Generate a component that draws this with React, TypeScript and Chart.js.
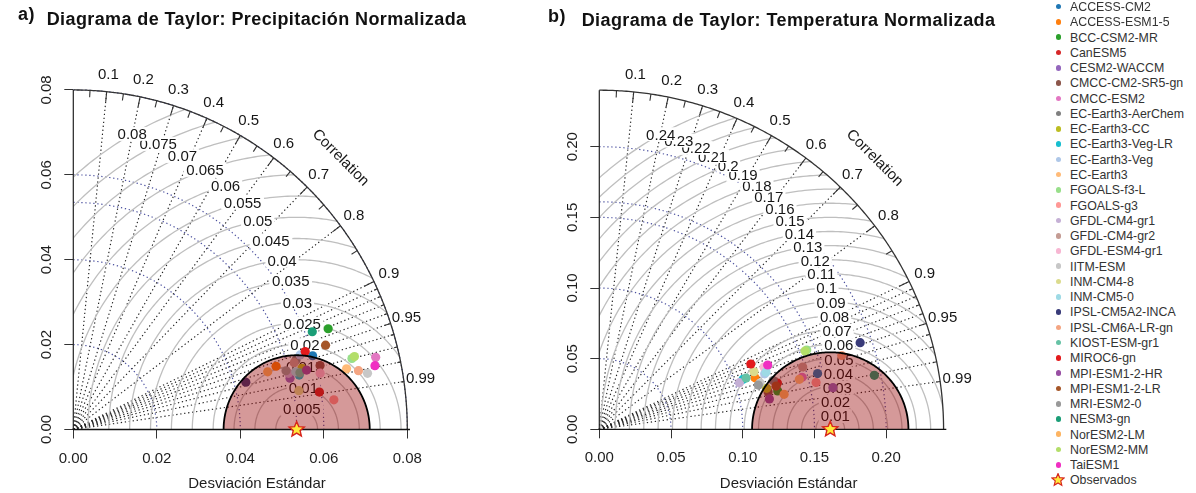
import React, { useEffect, useRef } from 'react';
import { Chart, registerables } from 'chart.js';

Chart.register(...registerables);

const FONT = "'Liberation Sans', Arial, Helvetica, sans-serif";
Chart.defaults.font.family = FONT;
Chart.defaults.color = '#222';

// ---------------- data ----------------
const modelNames = [
  'ACCESS-CM2', 'ACCESS-ESM1-5', 'BCC-CSM2-MR', 'CanESM5', 'CESM2-WACCM', 'CMCC-CM2-SR5-gn', 'CMCC-ESM2',
  'EC-Earth3-AerChem', 'EC-Earth3-CC', 'EC-Earth3-Veg-LR', 'EC-Earth3-Veg', 'EC-Earth3', 'FGOALS-f3-L',
  'FGOALS-g3', 'GFDL-CM4-gr1', 'GFDL-CM4-gr2', 'GFDL-ESM4-gr1', 'IITM-ESM', 'INM-CM4-8', 'INM-CM5-0',
  'IPSL-CM5A2-INCA', 'IPSL-CM6A-LR-gn', 'KIOST-ESM-gr1', 'MIROC6-gn', 'MPI-ESM1-2-HR', 'MPI-ESM1-2-LR',
  'MRI-ESM2-0', 'NESM3-gn', 'NorESM2-LM', 'NorESM2-MM', 'TaiESM1',
];

const modelColors = [
  '#1f77b4', '#ff7f0e', '#2ca02c', '#d62728', '#9467bd', '#8c564b', '#e377c2',
  '#7f7f7f', '#bcbd22', '#17becf', '#aec7e8', '#ffbb78', '#98df8a',
  '#ff9896', '#c5b0d5', '#c49c94', '#f7b6d2', '#c7c7c7', '#dbdb8d', '#9edae5',
  '#393b79', '#f4a582', '#66c2a5', '#e31a1c', '#984ea3', '#a65628',
  '#999999', '#1b9e77', '#fdb462', '#b3de69', '#f02fc2',
];

// Precipitation (panel a): standard deviation and correlation per model
const precipSD = [
  0.0599, 0.0508, 0.0655, 0.0596, 0.0533, 0.0610, 0.0744,
  0.0558, 0.0566, 0.0556, 0.0571, 0.0670, 0.0688,
  0.0628, 0.0532, 0.0552, 0.0606, 0.0717, 0.0548, 0.0550,
  0.0428, 0.0697, 0.0559, 0.0585, 0.0576, 0.0636,
  0.0528, 0.0617, 0.0485, 0.0695, 0.0738,
];
const precipCorr = [
  0.957, 0.956, 0.932, 0.989, 0.974, 0.969, 0.9735,
  0.956, 0.967, 0.973, 0.9515, 0.977, 0.970,
  0.9938, 0.9686, 0.9585, 0.9757, 0.9828, 0.986, 0.969,
  0.9656, 0.980, 0.971, 0.9495, 0.970, 0.950,
  0.965, 0.9277, 0.960, 0.969, 0.979,
];
const precipObsSD = 0.0535;
const precipMaxSD = 0.08;
const precipGoodRMS = 0.0175;
const precipSDTicks = [0.02, 0.04, 0.06, 0.08];
const precipRMS = [0.005, 0.01, 0.015, 0.02, 0.025, 0.03, 0.035, 0.04, 0.045, 0.05, 0.055, 0.06, 0.065, 0.07, 0.075, 0.08];

// Temperature (panel b)
const tempSD = [
  0.1572, 0.1145, 0.1273, 0.1284, 0.1655, 0.1206, 0.1461,
  0.1260, 0.1202, 0.1063, 0.1218, 0.1439, 0.1551,
  0.1547, 0.1031, 0.1485, 0.1230, 0.1168, 0.1153, 0.1231,
  0.1919, 0.1769, 0.1086, 0.1153, 0.1205, 0.1270,
  0.1152, 0.1955, 0.1312, 0.1538, 0.1259,
];
const tempCorr = [
  0.968, 0.948, 0.977, 0.967, 0.984, 0.9757, 0.9678,
  0.9617, 0.9704, 0.943, 0.9466, 0.9693, 0.9323,
  0.9768, 0.9474, 0.9549, 0.9336, 0.9598, 0.9355, 0.9442,
  0.9476, 0.9554, 0.9424, 0.9161, 0.984, 0.9705,
  0.9623, 0.9807, 0.982, 0.9328, 0.9324,
];
const tempObsSD = 0.161;
const tempMaxSD = 0.24;
const tempGoodRMS = 0.0545;
const tempSDTicks = [0.05, 0.1, 0.15, 0.2];
const tempRMS = [0.01, 0.02, 0.03, 0.04, 0.05, 0.06, 0.07, 0.08, 0.09, 0.1, 0.11, 0.12, 0.13, 0.14, 0.15, 0.16, 0.17, 0.18, 0.19, 0.2, 0.21, 0.22, 0.23, 0.24];

// Correlation grid
const corrLabels = [0.1, 0.2, 0.3, 0.4, 0.5, 0.6, 0.7, 0.8, 0.9, 0.95, 0.99];
const corrLines = [0.1, 0.2, 0.3, 0.4, 0.5, 0.6, 0.7, 0.8, 0.9, 0.91, 0.92, 0.93, 0.94, 0.95, 0.96, 0.97, 0.98, 0.99];
const corrBigTicks = [0.1, 0.2, 0.3, 0.4, 0.5, 0.6, 0.7, 0.8, 0.9];
const corrMedTicks = [0.05, 0.15, 0.25, 0.35, 0.45, 0.55, 0.65, 0.75, 0.85, 0.95];
const corrSmallTicks = [0.91, 0.92, 0.93, 0.94, 0.96, 0.97, 0.98, 0.99];

const titleA = 'Diagrama de Taylor: Precipitación Normalizada';
const titleB = 'Diagrama de Taylor: Temperatura Normalizada';
const xTitle = 'Desviación Estándar';
const obsLabel = 'Observados';

// ---------------- drawing ----------------
type Panel = {
  id: string;
  sd: number[];
  corr: number[];
  obs: number;
  max: number;
  good: number;
  sdTicks: number[];
  rms: number[];
  step: number;
  padLeft: number;
  yAxisW: number;
  padRight: number;
  padTop: number;
  xAxisH: number;
};

const LABEL_T = [0, 0.04, 0.0625, 0.083, 0.25, 0.5, 0.75, 1.0];
const LABEL_DEG = [62, 69, 75.6, 79.4, 84.3, 95, 106.5, 119.5];
function labelAngle(t: number) {
  for (let i = 1; i < LABEL_T.length; i++) {
    if (t <= LABEL_T[i]) {
      const f = (t - LABEL_T[i - 1]) / (LABEL_T[i] - LABEL_T[i - 1]);
      return ((LABEL_DEG[i - 1] + f * (LABEL_DEG[i] - LABEL_DEG[i - 1])) * Math.PI) / 180;
    }
  }
  return (LABEL_DEG[LABEL_DEG.length - 1] * Math.PI) / 180;
}

function fmt(v: number) {
  return String(Number(v.toFixed(3)));
}

function starPath(ctx: CanvasRenderingContext2D, cx: number, cy: number, R: number, r: number) {
  ctx.beginPath();
  for (let k = 0; k < 10; k++) {
    const a = -Math.PI / 2 + (k * Math.PI) / 5;
    const rr = k % 2 === 0 ? R : r;
    const x = cx + rr * Math.cos(a);
    const y = cy + rr * Math.sin(a);
    if (k === 0) ctx.moveTo(x, y);
    else ctx.lineTo(x, y);
  }
  ctx.closePath();
}

function taylorPlugin(p: Panel) {
  const helpers = (chart: any) => {
    const xs = chart.scales.x;
    const ys = chart.scales.y;
    const X = (v: number) => xs.getPixelForValue(v);
    const Y = (v: number) => ys.getPixelForValue(v);
    const ctx: CanvasRenderingContext2D = chart.ctx;
    const arcPath = (cx: number, cy: number, r: number, a0: number, a1: number, move = true) => {
      const n = 240;
      for (let i = 0; i <= n; i++) {
        const a = a0 + ((a1 - a0) * i) / n;
        const px = X(cx + r * Math.cos(a));
        const py = Y(cy + r * Math.sin(a));
        if (i === 0 && move) ctx.moveTo(px, py);
        else ctx.lineTo(px, py);
      }
    };
    return { X, Y, ctx, arcPath };
  };

  return {
    id: 'taylor' + p.id,
    beforeDatasetsDraw(chart: any) {
      const { X, Y, ctx, arcPath } = helpers(chart);
      const max = p.max;
      ctx.save();

      // standard deviation arcs (blue dotted) incl. the observed one
      ctx.setLineDash([1.3, 2.7]);
      ctx.lineWidth = 1.2;
      ctx.strokeStyle = '#4c519f';
      for (const r of [...p.sdTicks, p.obs]) {
        ctx.beginPath();
        arcPath(0, 0, r, Math.PI / 2, 0);
        ctx.stroke();
      }

      // correlation lines (black dotted)
      ctx.lineWidth = 1.15;
      ctx.strokeStyle = '#222';
      for (const c of corrLines) {
        const a = Math.acos(c);
        ctx.beginPath();
        ctx.moveTo(X(0), Y(0));
        ctx.lineTo(X(max * Math.cos(a)), Y(max * Math.sin(a)));
        ctx.stroke();
      }
      ctx.setLineDash([]);

      // centred RMS arcs (gray), clipped to the quarter disc
      ctx.save();
      ctx.beginPath();
      ctx.moveTo(X(0), Y(0));
      arcPath(0, 0, max, 0, Math.PI / 2, false);
      ctx.closePath();
      ctx.clip();
      ctx.strokeStyle = '#bfbfbf';
      ctx.lineWidth = 1.3;
      for (const g of p.rms) {
        ctx.beginPath();
        arcPath(p.obs, 0, g, 0, Math.PI);
        ctx.stroke();
      }
      ctx.restore();

      // RMS labels with white boxes
      const fs = 15;
      ctx.font = `${fs}px ${FONT}`;
      ctx.textAlign = 'center';
      ctx.textBaseline = 'alphabetic';
      for (const g of p.rms) {
        const a = labelAngle(g / max);
        const px = X(p.obs + g * Math.cos(a));
        const py = Y(g * Math.sin(a));
        const txt = fmt(g);
        const w = ctx.measureText(txt).width;
        const h = fs * 0.74;
        ctx.fillStyle = '#ffffff';
        ctx.fillRect(px - w * 0.57, py - h * 0.62, w * 1.14, h * 1.24);
        ctx.fillStyle = '#161616';
        ctx.fillText(txt, px, py + fs * 0.358);
      }

      // outer arc
      ctx.strokeStyle = '#333';
      ctx.lineWidth = 1.3;
      ctx.beginPath();
      arcPath(0, 0, max, 0, Math.PI / 2);
      ctx.stroke();

      // ticks on the correlation arc
      ctx.lineWidth = 1.1;
      const tick = (vals: number[], frac: number) => {
        for (const c of vals) {
          const a = Math.acos(c);
          ctx.beginPath();
          ctx.moveTo(X(max * Math.cos(a)), Y(max * Math.sin(a)));
          ctx.lineTo(X(frac * max * Math.cos(a)), Y(frac * max * Math.sin(a)));
          ctx.stroke();
        }
      };
      tick(corrBigTicks, 0.97);
      tick(corrMedTicks, 0.98);
      tick(corrSmallTicks, 0.99);

      // correlation labels
      ctx.fillStyle = '#161616';
      ctx.font = `15px ${FONT}`;
      ctx.textAlign = 'center';
      ctx.textBaseline = 'middle';
      for (const c of corrLabels) {
        const a = Math.acos(c);
        ctx.fillText(String(c), X(1.05 * max * Math.cos(a)), Y(1.05 * max * Math.sin(a)));
      }
      ctx.save();
      ctx.translate(X(0.8 * max), Y(0.8 * max));
      ctx.rotate(Math.PI / 4);
      ctx.fillText('Correlation', 0, 0);
      ctx.restore();

      // y axis line
      ctx.strokeStyle = '#222';
      ctx.lineWidth = 1.2;
      ctx.beginPath();
      ctx.moveTo(X(0), Y(0));
      ctx.lineTo(X(0), Y(max));
      ctx.stroke();

      ctx.restore();
    },
    afterDatasetsDraw(chart: any) {
      const { X, Y, ctx, arcPath } = helpers(chart);
      ctx.save();
      // "good" region
      ctx.beginPath();
      arcPath(p.obs, 0, p.good, 0, Math.PI);
      ctx.closePath();
      ctx.fillStyle = 'rgba(150, 0, 0, 0.4)';
      ctx.fill();
      ctx.beginPath();
      arcPath(p.obs, 0, p.good, 0, Math.PI);
      ctx.strokeStyle = '#000';
      ctx.lineWidth = 1.8;
      ctx.stroke();
      // baseline
      ctx.beginPath();
      ctx.moveTo(X(0), Y(0));
      ctx.lineTo(X(p.max * 1.008), Y(0));
      ctx.strokeStyle = '#111';
      ctx.lineWidth = 1.3;
      ctx.stroke();
      // observed star
      starPath(ctx, X(p.obs), Y(0), 8, 3.6);
      ctx.fillStyle = '#ffe93b';
      ctx.fill();
      ctx.strokeStyle = '#d8261c';
      ctx.lineWidth = 1.4;
      ctx.stroke();
      ctx.restore();
    },
  };
}

function makeConfig(p: Panel): any {
  const points = p.sd.map((s, i) => ({
    x: s * p.corr[i],
    y: s * Math.sqrt(1 - p.corr[i] * p.corr[i]),
  }));
  const tickFont = { size: 15, family: FONT };
  const keep = (s: any) => {
    s.ticks = s.ticks.filter((t: any) => t.value <= p.max + 1e-9);
  };
  return {
    type: 'scatter',
    data: {
      datasets: [
        {
          data: points,
          pointBackgroundColor: modelColors,
          pointBorderColor: modelColors,
          pointBorderWidth: 0,
          pointRadius: 4.6,
          pointHoverRadius: 4.6,
        },
      ],
    },
    options: {
      animation: false,
      responsive: false,
      devicePixelRatio: 1,
      events: [],
      layout: { padding: { left: p.padLeft, right: p.padRight, top: p.padTop, bottom: 0 } },
      plugins: { legend: { display: false }, tooltip: { enabled: false } },
      scales: {
        x: {
          type: 'linear',
          min: 0,
          max: p.max * 1.1,
          afterFit: (s: any) => {
            s.height = p.xAxisH;
          },
          afterBuildTicks: keep,
          ticks: {
            stepSize: p.step,
            includeBounds: false,
            autoSkip: false,
            maxRotation: 0,
            padding: 11,
            font: tickFont,
            color: '#1e1e1e',
            callback: (v: any) => Number(v).toFixed(2),
          },
          grid: { display: true, drawOnChartArea: false, drawTicks: true, tickLength: 9, color: '#333', lineWidth: 1 },
          border: { display: false },
          title: { display: true, text: xTitle, font: { size: 15, family: FONT }, color: '#1e1e1e', padding: { top: 0, bottom: 0 } },
        },
        y: {
          type: 'linear',
          min: 0,
          max: p.max * 1.1,
          afterFit: (s: any) => {
            s.width = p.yAxisW;
          },
          afterBuildTicks: keep,
          ticks: {
            stepSize: p.step,
            includeBounds: false,
            autoSkip: false,
            minRotation: 90,
            maxRotation: 90,
            crossAlign: 'center',
            padding: 2.5,
            font: tickFont,
            color: '#1e1e1e',
            callback: (v: any) => Number(v).toFixed(2),
          },
          grid: { display: true, drawOnChartArea: false, drawTicks: true, tickLength: 9, color: '#333', lineWidth: 1 },
          border: { display: false },
        },
      },
    },
    plugins: [taylorPlugin(p)],
  };
}

const panelA: Panel = {
  id: 'a', sd: precipSD, corr: precipCorr, obs: precipObsSD, max: precipMaxSD, good: precipGoodRMS,
  sdTicks: precipSDTicks, rms: precipRMS, step: 0.02,
  padLeft: 3.3, yAxisW: 70, padRight: 79.3, padTop: 56, xAxisH: 63.5,
};
const panelB: Panel = {
  id: 'b', sd: tempSD, corr: tempCorr, obs: tempObsSD, max: tempMaxSD, good: tempGoodRMS,
  sdTicks: tempSDTicks, rms: tempRMS, step: 0.05,
  padLeft: 9.3, yAxisW: 70, padRight: 62, padTop: 56.3, xAxisH: 63.7,
};

function Legend() {
  const step = 15.27;
  const y0 = 6.7;
  const textStyle: React.CSSProperties = {
    position: 'absolute', left: 1070, height: step, lineHeight: `${step}px`, fontSize: 13, color: '#333',
    whiteSpace: 'nowrap', transform: 'scaleX(0.95)', transformOrigin: 'left center',
  };
  const items = modelNames.map((name, i) => {
    const cy = y0 + i * step;
    return (
      <React.Fragment key={name}>
        <div style={{ position: 'absolute', left: 1055.5, top: cy - 2.8, width: 5.6, height: 5.6, borderRadius: '50%', background: modelColors[i] }} />
        <div style={{ ...textStyle, top: cy - step / 2 }}>{name}</div>
      </React.Fragment>
    );
  });
  const cyObs = y0 + modelNames.length * step;
  return (
    <>
      {items}
      <svg style={{ position: 'absolute', left: 1051, top: cyObs - 7 }} width={14} height={14} viewBox="-7 -7 14 14">
        <polygon
          points={Array.from({ length: 10 }, (_, k) => {
            const a = -Math.PI / 2 + (k * Math.PI) / 5;
            const r = k % 2 === 0 ? 6.4 : 2.9;
            return `${(r * Math.cos(a)).toFixed(2)},${(r * Math.sin(a)).toFixed(2)}`;
          }).join(' ')}
          fill="#ffe93b"
          stroke="#d8261c"
          strokeWidth={1.2}
        />
      </svg>
      <div style={{ ...textStyle, top: cyObs - step / 2 }}>{obsLabel}</div>
    </>
  );
}

export default function App() {
  const refA = useRef<HTMLCanvasElement>(null);
  const refB = useRef<HTMLCanvasElement>(null);
  useEffect(() => {
    const a = new Chart(refA.current as HTMLCanvasElement, makeConfig(panelA));
    const b = new Chart(refB.current as HTMLCanvasElement, makeConfig(panelB));
    return () => {
      a.destroy();
      b.destroy();
    };
  }, []);

  const titleStyle: React.CSSProperties = {
    position: 'absolute', fontWeight: 'bold', fontSize: 18, lineHeight: '18px', letterSpacing: '0.4px', color: '#111', whiteSpace: 'nowrap',
  };
  return (
    <div style={{ position: 'fixed', left: 0, top: 0, width: 1196, height: 493, background: '#fff', overflow: 'hidden', fontFamily: FONT }}>
      <canvas ref={refA} width={520} height={493} style={{ position: 'absolute', left: 0, top: 0, width: 520, height: 493 }} />
      <canvas ref={refB} width={520} height={493} style={{ position: 'absolute', left: 520, top: 0, width: 520, height: 493 }} />
      <div style={{ ...titleStyle, left: 18, top: 5 }}>a)</div>
      <div style={{ ...titleStyle, left: 46.7, top: 9.8 }}>{titleA}</div>
      <div style={{ ...titleStyle, left: 548, top: 7.4 }}>b)</div>
      <div style={{ ...titleStyle, left: 581.7, top: 10.8 }}>{titleB}</div>
      <Legend />
    </div>
  );
}
